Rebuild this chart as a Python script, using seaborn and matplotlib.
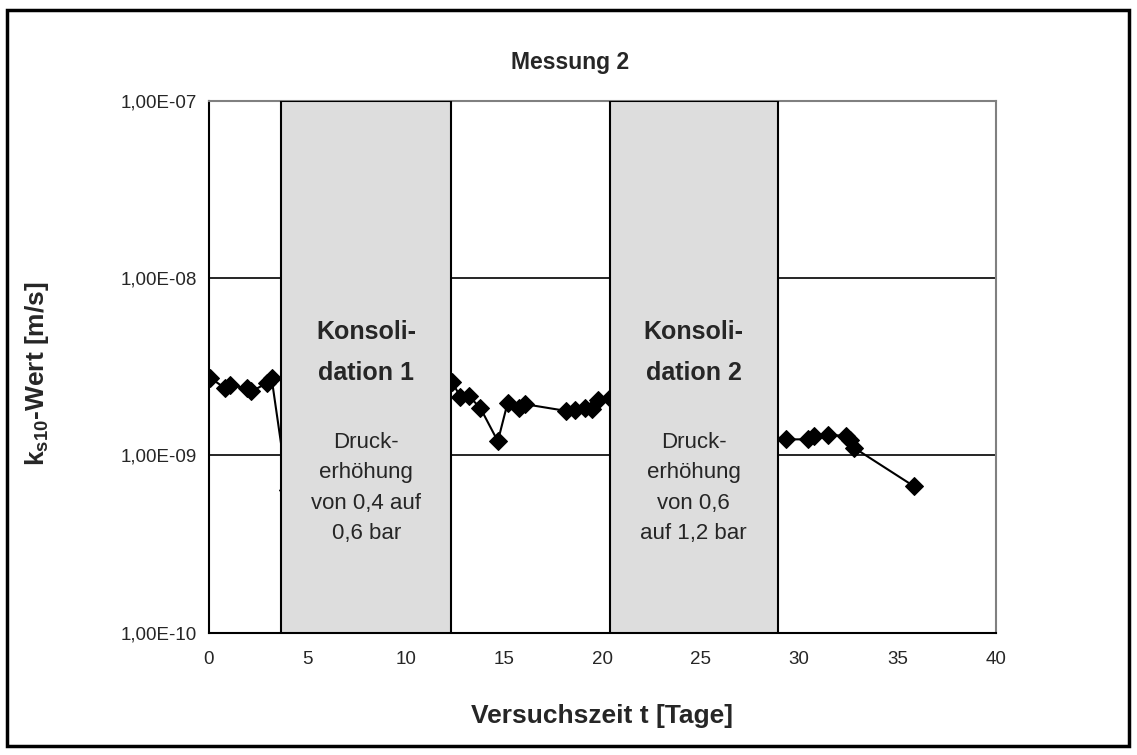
import matplotlib
matplotlib.use("Agg")
import matplotlib.pyplot as plt
import matplotlib.transforms as mtransforms
from matplotlib.patches import Rectangle
from matplotlib.ticker import FuncFormatter, FixedLocator, NullLocator
import seaborn as sns
import pandas as pd

# Messwerte (Versuchszeit in Tagen, k-Wert in m/s)
tage = [0.05, 0.81, 1.07, 1.92, 2.16, 2.93, 3.18, 4.0,
        12.35, 12.77, 13.2, 13.79, 14.68, 15.18, 15.74, 16.08,
        18.14, 18.6, 19.1, 19.45, 19.76, 20.36,
        29.31, 30.42, 30.76, 31.44, 32.37, 32.6, 32.8, 35.82]
k_wert = [2.74e-9, 2.39e-9, 2.48e-9, 2.39e-9, 2.29e-9, 2.55e-9, 2.73e-9, 6.4e-10,
          2.6e-9, 2.14e-9, 2.16e-9, 1.85e-9, 1.2e-9, 1.98e-9, 1.85e-9, 1.94e-9,
          1.78e-9, 1.8e-9, 1.85e-9, 1.82e-9, 2.05e-9, 2.1e-9,
          1.23e-9, 1.23e-9, 1.29e-9, 1.3e-9, 1.29e-9, 1.22e-9, 1.1e-9, 6.7e-10]

# Konsolidationsphasen (Beginn, Ende in Tagen)
phasen_start = [3.66, 20.36]
phasen_ende = [12.32, 28.9]
phasen_titel = ["Konsoli-\ndation 1", "Konsoli-\ndation 2"]
phasen_text = ["Druck-\nerhöhung\nvon 0,4 auf\n0,6 bar",
               "Druck-\nerhöhung\nvon 0,6\nauf 1,2 bar"]

y_ticks = [1e-10, 1e-9, 1e-8, 1e-7]
x_ticks = [0, 5, 10, 15, 20, 25, 30, 35, 40]

sns.set_style("white")
plt.rcParams['font.family'] = ['Liberation Sans', 'DejaVu Sans']
plt.rcParams['mathtext.fontset'] = 'custom'
plt.rcParams['mathtext.rm'] = 'Liberation Sans'
plt.rcParams['mathtext.bf'] = 'Liberation Sans:bold'

fig = plt.figure(figsize=(11.37, 7.55), dpi=100)
ax = fig.add_axes([209 / 1137, 1 - 632.7 / 755, (996 - 209) / 1137, (632.7 - 100.5) / 755])

df = pd.DataFrame({'t': tage, 'k': k_wert})
sns.lineplot(data=df, x='t', y='k', ax=ax, sort=False, estimator=None,
             color='black', linewidth=1.5, marker='D', markersize=9.5,
             markeredgecolor='black', markerfacecolor='black', zorder=3)

ax.set_yscale('log')
ax.set_xlim(0, 40)
ax.set_ylim(1e-10, 1e-7)

for y in y_ticks[1:-1]:
    ax.axhline(y, color='black', linewidth=1.2, zorder=1)

trans = mtransforms.blended_transform_factory(ax.transData, ax.transAxes)
for a, b, titel, text in zip(phasen_start, phasen_ende, phasen_titel, phasen_text):
    ax.axvspan(a, b, facecolor='#dddddd', edgecolor='black', linewidth=1.5, zorder=4)
    mitte = (a + b) / 2
    ax.text(mitte, 0.527, titel, transform=trans, ha='center', va='center',
            fontsize=18, fontweight='bold', linespacing=1.9, zorder=5)
    ax.text(mitte, 0.272, text, transform=trans, ha='center', va='center',
            fontsize=16, linespacing=1.6, zorder=5)

ax.yaxis.set_major_locator(FixedLocator(y_ticks))
ax.yaxis.set_minor_locator(NullLocator())
ax.yaxis.set_major_formatter(FuncFormatter(lambda v, p: f"{v:.2E}".replace('.', ',')))
ax.set_xticks(x_ticks)
ax.tick_params(axis='both', which='major', direction='out', length=7, width=1.2,
               color='black', labelsize=13.5)
ax.tick_params(axis='y', pad=2)
ax.tick_params(axis='x', pad=6)

for side in ['left', 'bottom']:
    ax.spines[side].set_color('black')
    ax.spines[side].set_linewidth(1.5)
for side in ['top', 'right']:
    ax.spines[side].set_color('#808080')
    ax.spines[side].set_linewidth(1.5)

ax.set_xlabel('Versuchszeit t [Tage]', fontsize=19, fontweight='bold')
ax.xaxis.set_label_coords((602 - 209) / 787, (632.7 - 716) / 532.2)
ax.xaxis.label.set_va('center')
ax.set_ylabel(r'$\mathbf{k_{s10}}$-Wert [m/s]', fontsize=19, fontweight='bold')
ax.yaxis.set_label_coords((37 - 209) / 787, (632.7 - 374) / 532.2)
ax.yaxis.label.set_va('center')
fig.text(570 / 1137, 1 - 62 / 755, 'Messung 2', ha='center', va='center',
         fontsize=16.5, fontweight='bold')

fig.patches.append(Rectangle((7 / 1137, 1 - 746 / 755), (1129 - 7) / 1137, (746 - 10) / 755,
                             transform=fig.transFigure, fill=False,
                             edgecolor='black', linewidth=2.5))

fig.savefig('out.png', dpi=100)
